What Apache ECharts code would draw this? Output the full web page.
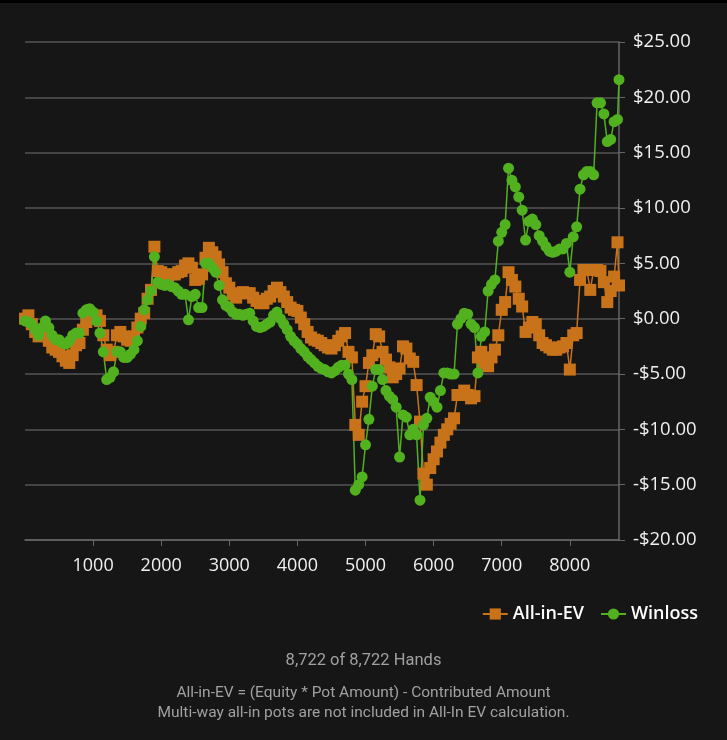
<!DOCTYPE html>
<html>
<head>
<meta charset="utf-8">
<script src="https://cdn.jsdelivr.net/npm/echarts@6/dist/echarts.min.js"></script>
<style>
html,body{margin:0;padding:0;background:#161616;}
#c{width:727px;height:740px;}
</style>
</head>
<body>
<div id="c"></div>
<script>
const hands = [
0,50,100,150,200,250,300,350,400,450,500,550,600,650,700,750,800,850,900,950,
1000,1050,1100,1150,1200,1250,1300,1350,1400,1450,1500,1550,1600,1650,1700,1750,1800,1850,1900,1950,
2000,2050,2100,2150,2200,2250,2300,2350,2400,2450,2500,2550,2600,2650,2700,2750,2800,2850,2900,2950,
3000,3050,3100,3150,3200,3250,3300,3350,3400,3450,3500,3550,3600,3650,3700,3750,3800,3850,3900,3950,
4000,4050,4100,4150,4200,4250,4300,4350,4400,4450,4500,4550,4600,4650,4700,4750,4800,4850,4900,4950,
5000,5050,5100,5150,5200,5250,5300,5350,5400,5450,5500,5550,5600,5650,5700,5750,5800,5850,5900,5950,
6000,6050,6100,6150,6200,6250,6300,6350,6400,6450,6500,6550,6600,6650,6700,6750,6800,6850,6900,6950,
7000,7050,7100,7150,7200,7250,7300,7350,7400,7450,7500,7550,7600,7650,7700,7750,7800,7850,7900,7950,
8000,8050,8100,8150,8200,8250,8300,8350,8400,8450,8500,8550,8600,8650,8700,8722];

const allInEV = [
0.0,0.3,-0.5,-1.2,-1.6,-1.0,-1.3,-2.0,-2.6,-2.8,-3.0,-3.4,-3.8,-4.0,-3.3,-2.4,-2.2,-1.0,-0.3,0.3,
0.0,0.3,-0.2,-1.5,-2.8,-3.3,-3.0,-1.5,-1.2,-1.6,-1.9,-2.0,-1.6,-0.8,0.0,0.5,1.8,2.6,6.5,4.3,
4.2,4.0,3.8,4.0,4.0,4.2,4.3,4.8,5.0,4.6,3.5,3.6,4.0,5.5,6.4,6.0,5.6,4.9,4.2,3.2,
2.8,2.2,1.9,2.3,2.4,2.3,2.3,1.9,1.6,1.4,1.4,1.8,2.0,2.5,2.8,2.4,2.0,1.5,1.0,0.8,
0.7,0.1,-0.5,-1.2,-1.7,-1.9,-2.0,-2.2,-2.4,-2.6,-2.7,-2.4,-2.0,-1.6,-1.3,-3.0,-3.5,-9.6,-10.5,-7.5,
-6.1,-4.0,-3.3,-1.4,-1.6,-3.0,-3.7,-4.4,-5.3,-5.0,-4.5,-2.5,-2.7,-3.6,-3.9,-6.0,-9.3,-14.0,-15.0,-13.5,
-12.7,-12.0,-11.2,-10.5,-10.0,-9.5,-9.0,-6.9,-6.9,-6.5,-6.9,-7.2,-7.0,-3.5,-3.0,-4.0,-4.3,-3.5,-2.8,-1.5,
0.8,1.5,4.2,3.5,2.9,1.8,1.1,-1.2,-0.8,-0.3,-0.5,-1.5,-2.2,-2.4,-2.6,-2.8,-2.8,-2.6,-2.5,-2.2,
-4.6,-1.5,-1.3,3.5,4.4,4.4,2.6,4.4,4.4,4.3,3.3,1.5,2.5,3.8,6.9,3.0];

const winloss = [
-0.2,-0.3,-0.5,-1.0,-1.5,-0.8,-0.2,-0.8,-1.5,-1.9,-1.9,-2.2,-2.3,-2.0,-1.5,-1.3,-1.3,0.5,0.8,0.9,
0.6,-0.2,-1.3,-3.0,-5.5,-5.3,-4.8,-3.0,-3.0,-3.5,-3.5,-3.2,-2.8,-2.0,-0.7,0.8,1.7,2.5,5.6,3.3,
3.1,3.0,3.1,2.9,2.8,2.5,2.2,2.2,-0.1,2.0,2.2,1.0,1.0,5.0,5.0,4.6,4.2,3.0,1.7,1.2,
1.0,0.6,0.4,0.4,0.3,0.4,0.5,-0.2,-0.7,-0.8,-0.7,-0.5,-0.3,0.3,0.6,0.0,-0.5,-1.0,-1.6,-2.0,
-2.3,-2.7,-3.0,-3.4,-3.7,-4.0,-4.3,-4.5,-4.6,-4.8,-4.9,-4.7,-4.4,-4.2,-4.2,-5.0,-5.5,-15.5,-15.0,-14.3,
-11.4,-9.1,-6.1,-4.6,-4.6,-5.5,-6.5,-7.0,-7.3,-8.0,-12.5,-8.7,-8.9,-10.5,-10.0,-10.5,-16.4,-9.6,-9.0,-7.1,
-7.5,-8.0,-6.5,-4.9,-4.9,-5.0,-5.0,-0.5,0.0,0.5,0.4,-0.5,-0.8,-4.9,-1.6,-1.2,2.5,3.1,3.5,7.0,
7.8,8.5,13.6,12.5,11.9,11.0,9.8,7.1,8.8,9.0,8.5,7.5,7.0,6.5,6.1,6.0,6.1,6.3,6.3,6.8,
4.2,7.4,8.3,11.7,13.0,13.3,13.3,13.0,19.5,19.5,18.5,16.0,16.2,17.8,18.0,21.6];

const seriesNames = ['All-in-EV','Winloss'];
const footerLines = ['8,722 of 8,722 Hands',
  'All-in-EV = (Equity * Pot Amount) - Contributed Amount',
  'Multi-way all-in pots are not included in All-In EV calculation.'];

const chart = echarts.init(document.getElementById('c'));
const ORANGE = '#c8731a', GREEN = '#52b11e';
const pair = arr => hands.map((h,i)=>[h, arr[i]]);

chart.setOption({
  backgroundColor: '#161616',
  animation: false,
  grid: {left: 25, right: 108, top: 42, bottom: 200},
  xAxis: {
    type: 'value', min: 0, max: 8722, interval: 1000,
    splitLine: {show: false},
    axisLine: {onZero: false, lineStyle: {color: '#666', width: 1.5}},
    axisTick: {show: true, length: 6, lineStyle: {color: '#666'}},
    axisLabel: {color: '#f0f0f0', fontSize: 18, fontFamily: 'Open Sans', margin: 17,
      showMinLabel: false, showMaxLabel: false, formatter: v => String(v)}
  },
  yAxis: {
    type: 'value', position: 'right', min: -20, max: 25, interval: 5,
    axisLine: {show: true, onZero: false, lineStyle: {color: '#666', width: 1.5}},
    axisTick: {show: true, length: 6, lineStyle: {color: '#666'}},
    splitLine: {show: true, lineStyle: {color: '#555', width: 1.5}},
    axisLabel: {color: '#f0f0f0', fontSize: 18.5, fontFamily: 'Open Sans', margin: 14,
      formatter: v => (v < 0 ? '-$' : '$') + Math.abs(v).toFixed(2)}
  },
  legend: {
    right: 24, top: 600, itemWidth: 25, itemHeight: 14, itemGap: 16,
    textStyle: {color: '#ffffff', fontSize: 18, fontWeight: 600, fontFamily: 'Open Sans'},
    data: seriesNames
  },
  title: [
    {text: footerLines[0], left: 'center', top: 647,
     textStyle: {color: '#a0a0a0', fontSize: 16.5, fontWeight: 'normal', fontFamily: 'Roboto'}},
    {text: footerLines[1] + '\n' + footerLines[2], left: 'center', top: 678,
     textStyle: {color: '#a0a0a0', fontSize: 15.5, fontWeight: 'normal', fontFamily: 'Roboto', lineHeight: 20}}
  ],
  graphic: [{type: 'rect', left: 0, top: 0, shape: {width: 727, height: 3}, style: {fill: '#000'}}],
  series: [
    {name: seriesNames[0], type: 'line', data: pair(allInEV), symbol: 'rect', symbolSize: 12,
     showAllSymbol: true, color: ORANGE, lineStyle: {width: 1.5, color: ORANGE},
     itemStyle: {color: ORANGE}},
    {name: seriesNames[1], type: 'line', data: pair(winloss), symbol: 'circle', symbolSize: 11,
     showAllSymbol: true, color: GREEN, lineStyle: {width: 1.5, color: GREEN},
     itemStyle: {color: GREEN}}
  ]
});
</script>
</body>
</html>
